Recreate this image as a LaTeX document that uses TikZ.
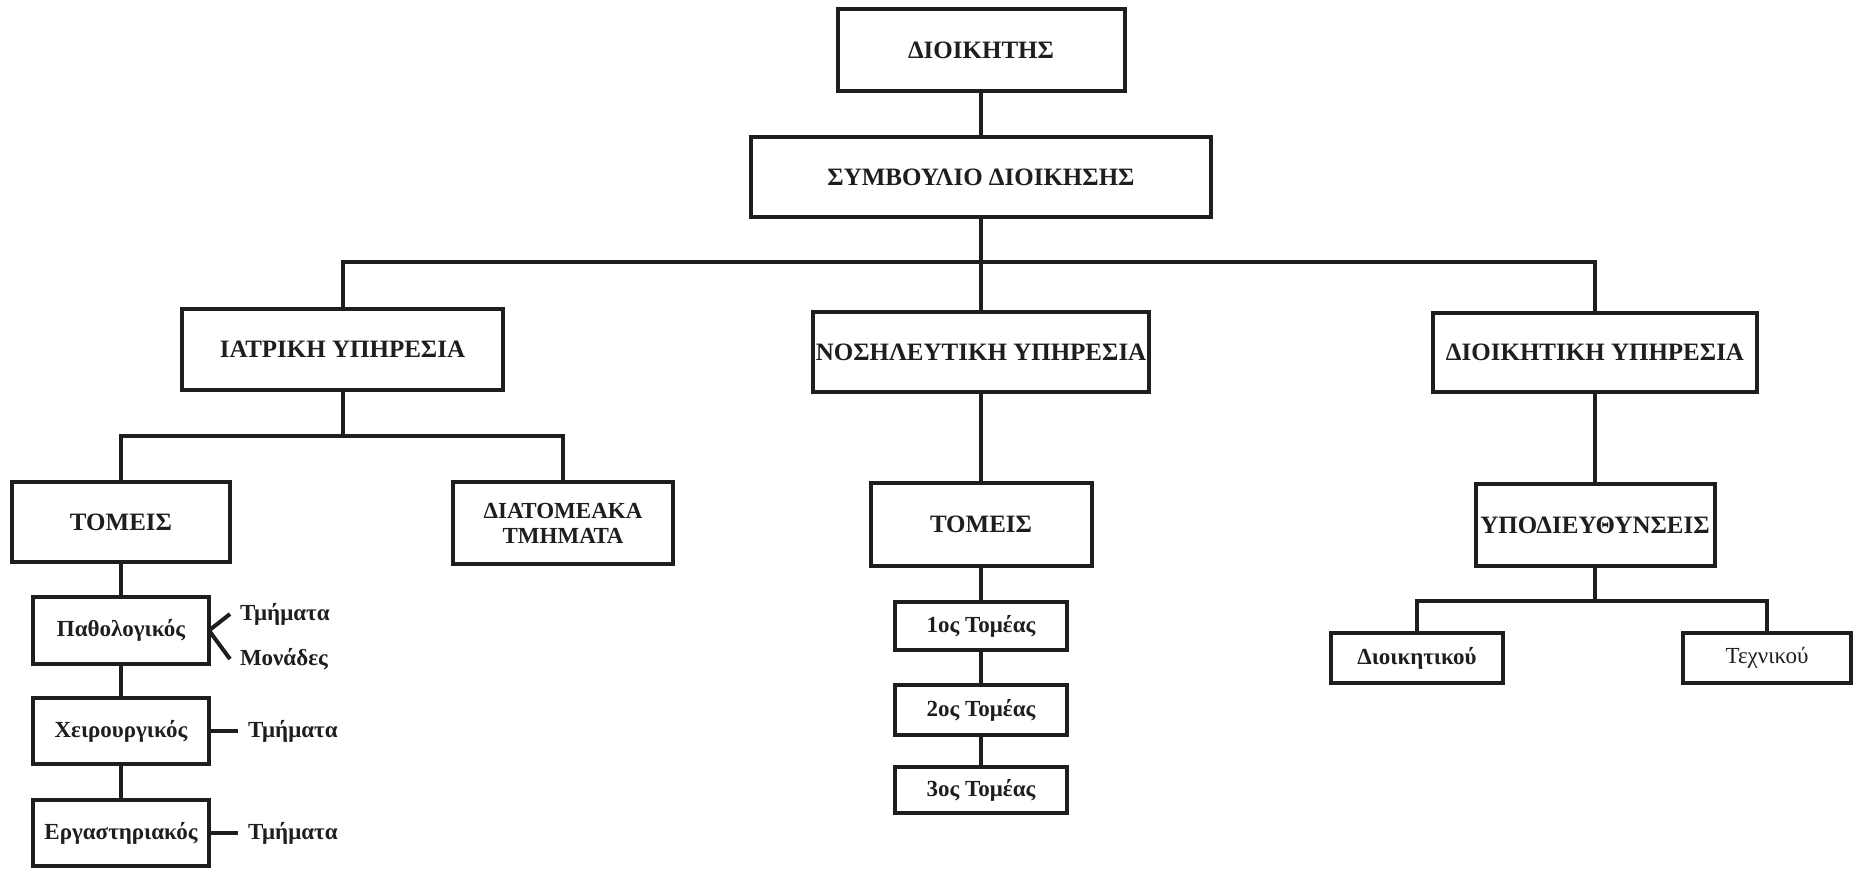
\documentclass[tikz,border=0pt]{standalone}
\usepackage{fontspec}
\setmainfont{Liberation Serif}
\definecolor{ink}{HTML}{1E1E1E}
\begin{document}
\begin{tikzpicture}[x=0.5pt,y=-0.5pt,
  box/.style={draw=ink, line width=2pt, rectangle, inner sep=0pt, outer sep=0pt,
    align=center, text=ink, font=\bfseries\fontsize{12.5}{12.5}\selectfont},
  sbox/.style={box, font=\bfseries\fontsize{11.5}{13}\selectfont},
  lbl/.style={anchor=west, inner xsep=5pt, inner ysep=0pt, outer sep=0pt, text=ink,
    font=\bfseries\fontsize{11.5}{13}\selectfont},
  link/.style={draw=ink, line width=2pt}]
\useasboundingbox[fill=white] (0,0) rectangle (1854,869);

% top of the hierarchy
\node[box, minimum width=143.5pt, minimum height=41pt] (dioik) at (981,50) {ΔΙΟΙΚΗΤΗΣ};
\node[box, minimum width=230pt, minimum height=40pt] (symv) at (981,177) {ΣΥΜΒΟΥΛΙΟ ΔΙΟΙΚΗΣΗΣ};

% the three services
\node[box, minimum width=160.5pt, minimum height=40.5pt] (iatr) at (342.5,349.5) {ΙΑΤΡΙΚΗ ΥΠΗΡΕΣΙΑ};
\node[box, minimum width=168pt, minimum height=40pt] (nosil) at (981,352) {ΝΟΣΗΛΕΥΤΙΚΗ ΥΠΗΡΕΣΙΑ};
\node[box, minimum width=162pt, minimum height=39.5pt] (dioikY) at (1595,352.5) {ΔΙΟΙΚΗΤΙΚΗ ΥΠΗΡΕΣΙΑ};

% medical service
\node[box, minimum width=109pt, minimum height=40pt] (tomL) at (121,522) {ΤΟΜΕΙΣ};
\node[box, minimum width=110pt, minimum height=41pt,
  font=\bfseries\fontsize{11.5}{12.5}\selectfont] (diat) at (563,523) {ΔΙΑΤΟΜΕΑΚΑ\\ΤΜΗΜΑΤΑ};
\node[sbox, minimum width=88pt, minimum height=33.5pt] (path) at (121,630.5) {Παθολογικός};
\node[sbox, minimum width=88pt, minimum height=33pt] (cheir) at (121,731) {Χειρουργικός};
\node[sbox, minimum width=88pt, minimum height=33pt] (erg) at (121,833) {Εργαστηριακός};
\node[lbl] (pt) at (230,614) {Τμήματα};
\node[lbl] (pm) at (230,659) {Μονάδες};
\node[lbl] (ct) at (238,731) {Τμήματα};
\node[lbl] (et) at (238,833) {Τμήματα};

% nursing service
\node[box, minimum width=110.5pt, minimum height=41.5pt] (tomM) at (981,524.5) {ΤΟΜΕΙΣ};
\node[sbox, minimum width=86pt, minimum height=24pt] (t1) at (981,626) {1ος Τομέας};
\node[sbox, minimum width=86pt, minimum height=25pt] (t2) at (981,710) {2ος Τομέας};
\node[sbox, minimum width=86pt, minimum height=23pt] (t3) at (981,790) {3ος Τομέας};

% administrative service
\node[box, minimum width=119.5pt, minimum height=41pt] (ypod) at (1595,525) {ΥΠΟΔΙΕΥΘΥΝΣΕΙΣ};
\node[sbox, minimum width=86pt, minimum height=25pt] (dioikou) at (1417,658) {Διοικητικού};
\node[sbox, minimum width=84pt, minimum height=25pt,
  font=\fontsize{11.5}{13}\selectfont] (texn) at (1767,658) {Τεχνικού};

% junction points of the buses
\coordinate (j1) at (981,262);
\coordinate (j2) at (342.5,436);
\coordinate (j3) at (1595,601);

% connectors
\draw[link] (dioik) -- (symv);
\draw[link] (symv.south) -- (nosil.north);
\draw[link] (iatr.north) |- (j1) -| (dioikY.north);
\draw[link] (iatr.south) -- (j2);
\draw[link] (tomL.north) |- (j2) -| (diat.north);
\draw[link] (tomL) -- (path);
\draw[link] (path) -- (cheir);
\draw[link] (cheir) -- (erg);
\draw[link] (path.east) -- (pt.west);
\draw[link] (path.east) -- (pm.west);
\draw[link] (cheir.east) -- (ct.west);
\draw[link] (erg.east) -- (et.west);
\draw[link] (nosil) -- (tomM);
\draw[link] (tomM) -- (t1);
\draw[link] (t1) -- (t2);
\draw[link] (t2) -- (t3);
\draw[link] (dioikY) -- (ypod);
\draw[link] (ypod.south) -- (j3);
\draw[link] (dioikou.north) |- (j3) -| (texn.north);
\end{tikzpicture}
\end{document}
